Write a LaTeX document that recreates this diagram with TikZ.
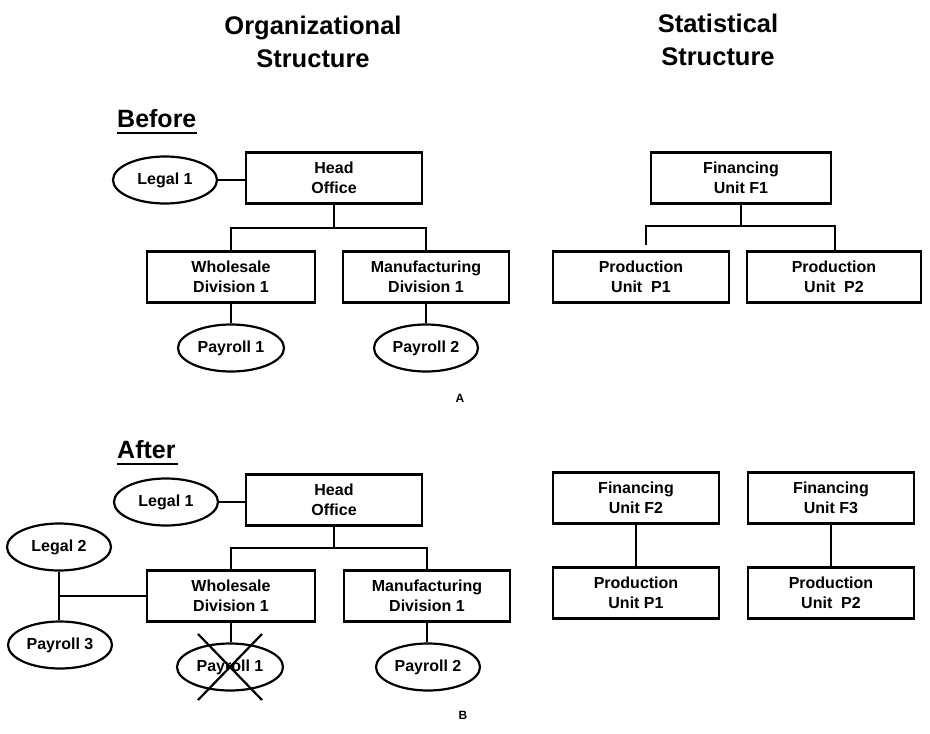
\documentclass[tikz,border=0pt]{standalone}
\usepackage{fontspec}
\setmainfont{Liberation Sans}
\usetikzlibrary{shapes.geometric}
\begin{document}
\begin{tikzpicture}[x=1pt,y=-1pt,
  every node/.style={inner sep=0pt},
  unitbox/.style={draw, line width=2.2pt, minimum width=#1, minimum height=51pt,
    align=center, font=\bfseries\fontsize{16}{20.5}\selectfont},
  unitbox/.default=170pt,
  oval/.style={draw, ellipse, line width=2.2pt, minimum width=#1, minimum height=47pt,
    font=\bfseries\fontsize{16}{20}\selectfont},
  oval/.default=104pt,
  link/.style={line width=2.6pt},
  heading/.style={align=center, font=\bfseries\fontsize{25.5}{33}\selectfont},
  section/.style={font=\bfseries\fontsize{25}{30}\selectfont, anchor=base west},
  tag/.style={font=\bfseries\fontsize{12}{14}\selectfont}
]
\useasboundingbox[fill=white] (0,0) rectangle (930,734);

% column headings
\node[heading] (orgtitle) at (313,42) {Organizational\\Structure};
\node[heading] (stattitle) at (718,40) {Statistical\\Structure};

% ---------------- Before ----------------
\node[section] (before) at (117,127) {Before};
\draw[line width=2.2pt] (before.base west) ++(0,6) -- ++(80,0);

\node[unitbox=176pt] (ho1) at (334,178) {Head\\Office};
\node[oval] (lg1) at (165,180) {Legal 1};
\node[unitbox=168pt] (wh1) at (231,277) {Wholesale\\Division 1};
\node[unitbox=166pt] (mf1) at (426,277) {Manufacturing\\Division 1};
\node[oval=106pt] (pr1) at (231,348) {Payroll 1};
\node[oval] (pr2) at (426,348) {Payroll 2};
\node[tag] (tagA) at (460,398) {A};

\draw[link] (lg1.east) -- (ho1.west |- lg1.east);
\draw[link] (ho1.south) -- (ho1.south |- 0,228);
\draw[link] (wh1.north) -- (wh1.north |- 0,228) -- (mf1.north |- 0,228) -- (mf1.north);
\draw[link] (wh1.south) -- (wh1.south |- pr1.north);
\draw[link] (mf1.south) -- (mf1.south |- pr2.north);

\node[unitbox=180pt] (fu1) at (741,178) {Financing\\Unit F1};
\node[unitbox=176pt] (pu1) at (641,277) {Production\\Unit~ P1};
\node[unitbox=174pt] (pu2) at (834,277) {Production\\Unit~ P2};
\coordinate (busL) at (646,226);
\coordinate (busR) at (835,226);
\draw[link] (fu1.south) -- (fu1.south |- busL);
\draw[link] (busL |- pu1.north) ++(0,-5) -- (busL) -- (busR) -- (busR |- pu2.north);

% ---------------- After ----------------
\node[section] (after) at (117,458) {After};
\draw[line width=2.2pt] (after.base west) ++(0,6) -- ++(61,0);

\node[unitbox=176pt] (ho2) at (334,500) {Head\\Office};
\node[oval] (lg1b) at (166,502) {Legal 1};
\node[oval] (lg2) at (59,547) {Legal 2};
\node[oval] (pr3) at (60,645) {Payroll 3};
\node[unitbox=168pt] (wh2) at (231,596) {Wholesale\\Division 1};
\node[unitbox=166pt] (mf2) at (427,596) {Manufacturing\\Division 1};
\node[oval=106pt] (pr1b) at (230,667) {Payroll 1};
\node[oval] (pr2b) at (428,667) {Payroll 2};
\node[tag] (tagB) at (463,715) {B};

\draw[link] (lg1b.east) -- (ho2.west |- lg1b.east);
\draw[link] (ho2.south) -- (ho2.south |- 0,548);
\draw[link] (wh2.north) -- (wh2.north |- 0,548) -- (mf2.north |- 0,548) -- (mf2.north);
\draw[link] (wh2.south) -- (wh2.south |- pr1b.north);
\draw[link] (mf2.south) -- (mf2.south |- pr2b.north);
\coordinate (joint) at (59,596);
\draw[link] (joint |- lg2.south) -- (joint) -- (joint |- pr3.north);
\draw[link] (joint) -- (wh2.west);

% payroll 1 struck out
\draw[line width=2.2pt] (pr1b.center) ++(-32,-33) -- ++(64,66);
\draw[line width=2.2pt] (pr1b.center) ++(32,-33) -- ++(-64,66);

\node[unitbox=166pt] (fu2) at (636,498) {Financing\\Unit F2};
\node[unitbox=166pt] (fu3) at (831,498) {Financing\\Unit F3};
\node[unitbox=166pt] (pu1b) at (636,593) {Production\\Unit P1};
\node[unitbox=166pt] (pu2b) at (831,593) {Production\\Unit~ P2};
\draw[link] (fu2.south) -- (pu1b.north);
\draw[link] (fu3.south) -- (pu2b.north);
\end{tikzpicture}
\end{document}
